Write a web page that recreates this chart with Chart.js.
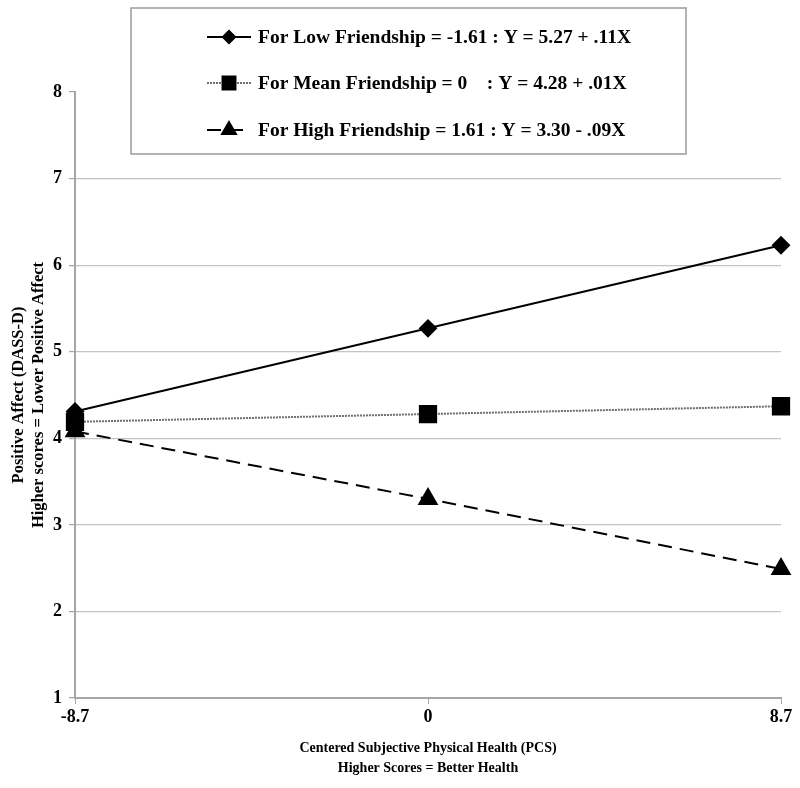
<!DOCTYPE html>
<html>
<head>
<meta charset="utf-8">
<script src="https://cdn.jsdelivr.net/npm/chart.js@4/dist/chart.umd.min.js"></script>
<style>
  html, body { margin: 0; padding: 0; background: #fff; }
  #chart { display: block; }
</style>
</head>
<body>
<canvas id="chart" width="800" height="788"></canvas>
<script>
// values
const xLabels = ['-8.7', '0', '8.7'];
const lowValues = [4.31, 5.27, 6.23];
const meanValues = [4.19, 4.28, 4.37];
const highValues = [4.08, 3.30, 2.49];

const legendLabels = [
	'For Low Friendship = -1.61 : Y = 5.27 + .11X',
	'For Mean Friendship = 0    : Y = 4.28 + .01X',
	'For High Friendship = 1.61 : Y = 3.30 - .09X'
];
const yTitle = ['Positive Affect (DASS-D)', 'Higher scores = Lower Positive Affect'];
const xTitle = ['Centered Subjective Physical Health (PCS)', 'Higher Scores = Better Health'];

const serif = '"Liberation Serif", "Times New Roman", serif';

// legend drawn as a box over the plot, with line samples
const boxLegend = {
	id: 'boxLegend',
	afterDraw(chart) {
		const ctx = chart.ctx;
		const box = {x: 131, y: 8, w: 555, h: 146};
		ctx.save();
		ctx.fillStyle = '#fff';
		ctx.fillRect(box.x, box.y, box.w, box.h);
		ctx.strokeStyle = '#9a9a9a';
		ctx.lineWidth = 1.5;
		ctx.strokeRect(box.x, box.y, box.w, box.h);

		const rows = [37, 83, 130];
		chart.data.datasets.forEach((ds, i) => {
			const y = rows[i];
			ctx.save();
			ctx.strokeStyle = ds.borderColor;
			ctx.lineWidth = ds.borderWidth;
			ctx.setLineDash(ds.borderDash || []);
			ctx.beginPath();
			ctx.moveTo(207, y);
			ctx.lineTo(251, y);
			ctx.stroke();
			ctx.restore();
			ctx.fillStyle = '#000';
			ctx.strokeStyle = '#000';
			Chart.helpers.drawPoint(ctx, {
				pointStyle: ds.pointStyle,
				radius: ds.legendRadius,
				rotation: 0,
				borderWidth: 1
			}, 229, y);
			ctx.fillStyle = '#000';
			ctx.font = 'bold 19.5px ' + serif;
			ctx.textBaseline = 'middle';
			ctx.textAlign = 'left';
			ctx.fillText(legendLabels[i], 258, y + 1);
		});
		ctx.restore();
	}
};

new Chart(document.getElementById('chart'), {
	type: 'line',
	data: {
		labels: xLabels,
		datasets: [
			{
				label: legendLabels[0],
				data: lowValues,
				borderColor: '#000',
				backgroundColor: '#000',
				borderWidth: 2,
				pointStyle: 'rectRot',
				pointRadius: 8,
				legendRadius: 6.5,
				clip: false
			},
			{
				label: legendLabels[1],
				data: meanValues,
				borderColor: '#6e6e6e',
				backgroundColor: '#000',
				pointBorderColor: '#000',
				borderWidth: 2,
				borderDash: [2, 1],
				pointStyle: 'rect',
				pointRadius: 11.5,
				legendRadius: 9.5,
				clip: false
			},
			{
				label: legendLabels[2],
				data: highValues,
				borderColor: '#000',
				backgroundColor: '#000',
				borderWidth: 2,
				borderDash: [14, 8],
				pointStyle: 'triangle',
				pointRadius: 10,
				legendRadius: 8.5,
				clip: false
			}
		]
	},
	options: {
		responsive: false,
		animation: false,
		layout: {padding: {top: 92, right: 19, left: 0, bottom: 0}},
		plugins: {
			legend: {display: false},
			tooltip: {enabled: false}
		},
		elements: {
			line: {tension: 0},
			point: {borderWidth: 1}
		},
		scales: {
			x: {
				type: 'category',
				offset: false,
				afterFit: (scale) => { scale.height = 90; },
				border: {color: '#a6a6a6', width: 2},
				grid: {
					drawOnChartArea: false,
					drawTicks: true,
					tickLength: 6,
					tickColor: '#a6a6a6'
				},
				ticks: {
					color: '#000',
					padding: 3,
					maxRotation: 0,
					font: {family: serif, size: 18, weight: 'bold'}
				},
				title: {
					display: true,
					text: xTitle,
					color: '#000',
					padding: {top: 0, bottom: 10},
					font: {family: serif, size: 14, weight: 'bold', lineHeight: 1.43}
				}
			},
			y: {
				min: 1,
				max: 8,
				afterFit: (scale) => { scale.width = 75; },
				border: {color: '#a6a6a6', width: 2},
				grid: {
					color: (c) => (c.tick && c.tick.value === 8 ? 'rgba(0,0,0,0)' : '#c4c4c4'),
					tickColor: '#a6a6a6',
					tickLength: 6,
					lineWidth: 1.2
				},
				ticks: {
					stepSize: 1,
					color: '#000',
					padding: 7,
					font: {family: serif, size: 18, weight: 'bold'}
				},
				title: {
					display: true,
					text: yTitle,
					color: '#000',
					padding: {top: 9, bottom: 0},
					font: {family: serif, size: 16.5, weight: 'bold', lineHeight: 1.2}
				}
			}
		}
	},
	plugins: [boxLegend]
});
</script>
</body>
</html>
